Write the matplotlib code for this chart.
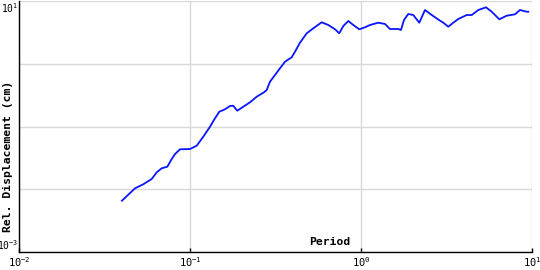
import matplotlib
matplotlib.use('Agg')
import matplotlib.pyplot as plt

# Response spectrum (period in s, rel. displacement in cm)
period = [0.040, 0.0477, 0.0533, 0.0597, 0.0639, 0.0683, 0.0737, 0.0782, 0.0818,
          0.0874, 0.100, 0.1094, 0.1196, 0.1309, 0.140, 0.1484, 0.1602, 0.1713,
          0.179, 0.189, 0.205, 0.2243, 0.2455, 0.2708, 0.2809, 0.2936, 0.336,
          0.3594, 0.3932, 0.4111, 0.4397, 0.4814, 0.5262, 0.589, 0.6438, 0.7047,
          0.7465, 0.788, 0.843, 0.9016, 0.977, 1.055, 1.129, 1.262, 1.382, 1.477,
          1.652, 1.713, 1.784, 1.891, 2.022, 2.192, 2.367, 2.591, 2.897, 3.029,
          3.24, 3.466, 3.707, 4.151, 4.441, 4.853, 5.383, 5.812, 6.44, 7.112,
          7.953, 8.506, 9.311, 9.515]
displacement = [0.00657, 0.01035, 0.0120, 0.01457, 0.01862, 0.02157, 0.02288,
                0.03034, 0.03646, 0.04331, 0.04378, 0.04943, 0.06879, 0.09927,
                0.1351, 0.1721, 0.188, 0.2122, 0.2145, 0.1785, 0.2067, 0.243,
                0.2985, 0.3508, 0.3816, 0.5174, 0.8462, 1.078, 1.267, 1.556,
                2.165, 3.058, 3.672, 4.578, 4.145, 3.54, 3.058, 3.996, 4.8,
                4.145, 3.54, 3.81, 4.145, 4.511, 4.3, 3.579, 3.579, 3.45, 4.98,
                6.206, 5.983, 4.511, 7.19, 5.983, 4.855, 4.511, 3.894, 4.511,
                5.166, 5.983, 5.983, 7.19, 7.934, 6.75, 5.11, 5.831, 6.138, 7.19,
                6.75, 6.75]

xticks = [1e-2, 1e-1, 1e0, 1e1]
xtick_labels = ['$10^{-2}$', '$10^{-1}$', '$10^{0}$', '$10^{1}$']
yticks = [1e-3, 1e-2, 1e-1, 1e0, 1e1]
ytick_labels = ['$10^{-3}$', '', '', '', '$10^{1}$']

plt.rcParams['mathtext.fontset'] = 'custom'
plt.rcParams['mathtext.rm'] = 'DejaVu Sans Mono'
plt.rcParams['mathtext.default'] = 'rm'

fig = plt.figure(figsize=(5.4, 2.7), dpi=100)
ax = fig.add_axes([19 / 540, 1 - 252 / 270, 513 / 540, 251 / 270])

ax.plot(period, displacement, color='#0a14ff', linewidth=1.3)

ax.set_xscale('log')
ax.set_yscale('log')
ax.set_xlim(1e-2, 1e1)
ax.set_ylim(1e-3, 1e1)

ax.set_xticks(xticks)
ax.set_xticklabels(xtick_labels, fontsize=7.5)
ax.set_yticks(yticks)
ax.set_yticklabels(ytick_labels, fontsize=7)
ax.minorticks_off()
ylabs = ax.get_yticklabels()
ylabs[0].set_va('bottom')
ylabs[-1].set_va('top')

ax.tick_params(axis='x', direction='in', length=3, width=1, pad=2)
ax.tick_params(axis='y', length=0, pad=0.5)

ax.grid(True, color='#d9d9d9', linewidth=1)
ax.set_axisbelow(True)
for side in ['top', 'right']:
    ax.spines[side].set_visible(False)
ax.spines['left'].set_linewidth(1)
ax.spines['bottom'].set_linewidth(1)

fig.text(330 / 540, 1 - 242 / 270, 'Period', ha='center', va='center',
         family='DejaVu Sans Mono', weight='bold', fontsize=8.2)
fig.text(8 / 540, 1 - 156 / 270, 'Rel. Displacement (cm)', rotation=90,
         ha='center', va='center', family='DejaVu Sans Mono', weight='bold',
         fontsize=8.2)

fig.savefig('out.png', dpi=100)
